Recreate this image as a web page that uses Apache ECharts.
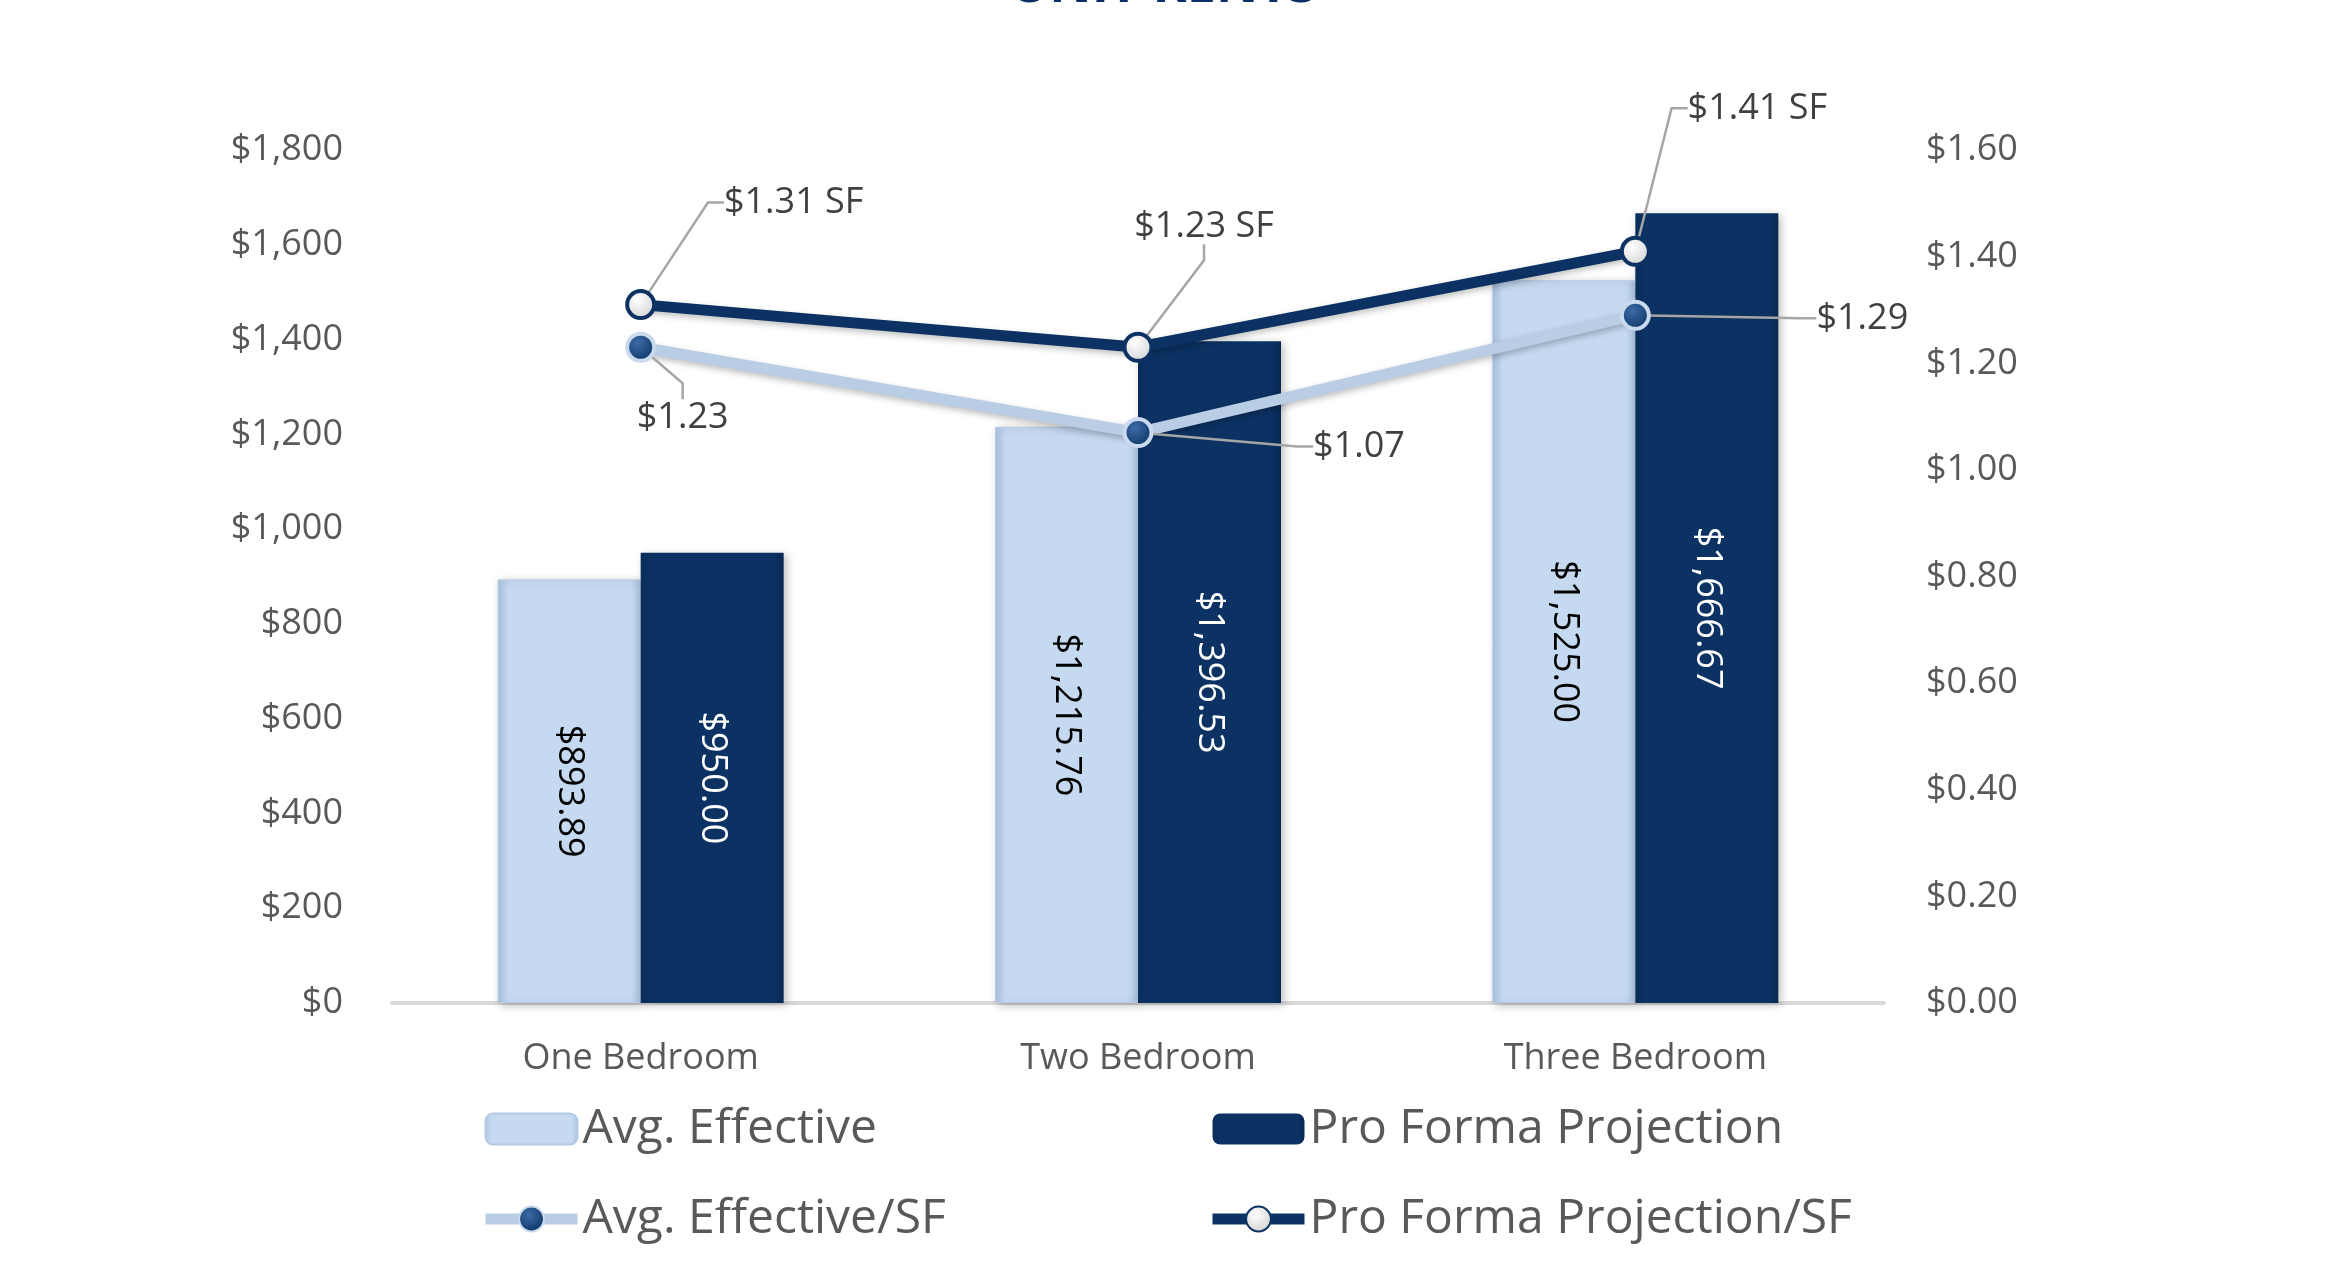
<!DOCTYPE html>
<html>
<head>
<meta charset="utf-8">
<title>Unit Rents</title>
<script src="https://cdn.jsdelivr.net/npm/echarts@6/dist/echarts.min.js"></script>
<style>
    html, body { margin: 0; padding: 0; background: #fff; }
    #chart { width: 2327px; height: 1264px; }
</style>
</head>
<body>
<div id="chart"></div>
<script>
// chart data
const categories = ['One Bedroom', 'Two Bedroom', 'Three Bedroom'];
const avgEffective = [893.89, 1215.76, 1525.00];
const proForma = [950.00, 1396.53, 1666.67];
const avgEffectiveSF = [1.23, 1.07, 1.29];
const proFormaSF = [1.31, 1.23, 1.41];
const rentTicks = [0, 1800, 200];   // min, max, step of the left axis
const sfTicks = [0, 1.6, 0.2];      // min, max, step of the right axis

const FONT = 'Open Sans';
const NAVY = '#0B3263';
const LIGHT = '#C5D9F1';
const GREY_TEXT = '#595959';

// where the callout labels sit, relative to their point
const pfOffsets = [[153, -102], [66, -121], [122, -143]];
const aeOffsets = [[42, 70], [221, 14], [227, 3]];

function money(v) {
    return '$' + v.toLocaleString('en-US', { minimumFractionDigits: 2, maximumFractionDigits: 2 });
}

const chart = echarts.init(document.getElementById('chart'));

const legendBase = {
    orient: 'vertical',
    top: 1100,
    itemGap: 42,
    itemWidth: 92,
    itemHeight: 31,
    lineStyle: { width: 11 },
    textStyle: { fontFamily: FONT, fontSize: 48, color: GREY_TEXT }
};

const option = {
    animation: false,
    backgroundColor: '#fff',
    title: {
        text: 'UNIT RENTS',
        left: 'center',
        top: -44,
        padding: [5, 5, 5, 45],
        textStyle: { fontFamily: FONT, fontSize: 52, fontWeight: 'bold', color: '#0B2E67' }
    },
    grid: { left: 392, right: 443, top: 150, bottom: 261 },
    legend: [
        Object.assign({}, legendBase, { left: 475, data: ['Avg. Effective', 'Avg. Effective/SF'] }),
        Object.assign({}, legendBase, { left: 1202, data: ['Pro Forma Projection', 'Pro Forma Projection/SF'] })
    ],
    xAxis: {
        type: 'category',
        data: categories,
        axisLine: { lineStyle: { color: '#D9D9D9', width: 4 } },
        axisTick: { show: false },
        axisLabel: { fontFamily: FONT, fontSize: 36, color: GREY_TEXT, margin: 38 }
    },
    yAxis: [
        {
            type: 'value',
            min: rentTicks[0],
            max: rentTicks[1],
            interval: rentTicks[2],
            splitLine: { show: false },
            axisLine: { show: false },
            axisTick: { show: false },
            axisLabel: {
                fontFamily: FONT, fontSize: 36, color: GREY_TEXT, margin: 49,
                formatter: v => '$' + v.toLocaleString('en-US')
            }
        },
        {
            type: 'value',
            min: sfTicks[0],
            max: sfTicks[1],
            interval: sfTicks[2],
            splitLine: { show: false },
            axisLine: { show: false },
            axisTick: { show: false },
            axisLabel: {
                fontFamily: FONT, fontSize: 36, color: GREY_TEXT, margin: 42,
                formatter: v => '$' + v.toFixed(2)
            }
        }
    ],
    series: [
        {
            name: 'Avg. Effective',
            type: 'bar',
            data: avgEffective,
            barWidth: 143,
            barGap: '0%',
            itemStyle: {
                color: new echarts.graphic.LinearGradient(0, 0, 1, 0, [
                    { offset: 0, color: '#A9C1DE' },
                    { offset: 0.07, color: LIGHT },
                    { offset: 0.93, color: LIGHT },
                    { offset: 1, color: '#A9C1DE' }
                ]),
                borderColor: '#B4C9E4',
                borderWidth: 1,
                shadowColor: 'rgba(0,0,0,0.25)',
                shadowBlur: 8,
                shadowOffsetX: 3,
                shadowOffsetY: 2
            },
            label: {
                show: true,
                position: 'inside',
                rotate: -90,
                fontFamily: FONT,
                fontSize: 36,
                color: '#000',
                formatter: p => money(p.value)
            }
        },
        {
            name: 'Pro Forma Projection',
            type: 'bar',
            data: proForma,
            barWidth: 143,
            barGap: '0%',
            itemStyle: {
                color: new echarts.graphic.LinearGradient(0, 0, 1, 0, [
                    { offset: 0, color: '#0A2D5A' },
                    { offset: 0.07, color: NAVY },
                    { offset: 0.93, color: NAVY },
                    { offset: 1, color: '#082850' }
                ]),
                shadowColor: 'rgba(0,0,0,0.25)',
                shadowBlur: 8,
                shadowOffsetX: 3,
                shadowOffsetY: 2
            },
            label: {
                show: true,
                position: 'inside',
                rotate: -90,
                fontFamily: FONT,
                fontSize: 36,
                color: '#fff',
                formatter: p => money(p.value)
            }
        },
        {
            name: 'Avg. Effective/SF',
            type: 'line',
            yAxisIndex: 1,
            data: avgEffectiveSF,
            symbol: 'circle',
            symbolSize: 27,
            lineStyle: {
                color: '#B9CDE5', width: 11,
                shadowColor: 'rgba(0,0,0,0.25)', shadowBlur: 6, shadowOffsetY: 3
            },
            itemStyle: {
                color: new echarts.graphic.RadialGradient(0.4, 0.35, 0.7, [
                    { offset: 0, color: '#3D6BA6' },
                    { offset: 1, color: NAVY }
                ]),
                borderColor: '#C9D9EE',
                borderWidth: 4
            },
            label: {
                show: true,
                position: 'inside',
                fontFamily: FONT,
                fontSize: 36,
                color: '#404040',
                formatter: p => '$' + p.value.toFixed(2)
            },
            labelLine: { show: true, length2: 16, lineStyle: { color: '#A6A6A6', width: 2.5 } },
            labelLayout: p => ({ dx: aeOffsets[p.dataIndex][0], dy: aeOffsets[p.dataIndex][1] })
        },
        {
            name: 'Pro Forma Projection/SF',
            type: 'line',
            yAxisIndex: 1,
            data: proFormaSF,
            symbol: 'circle',
            symbolSize: 27,
            lineStyle: {
                color: NAVY, width: 11,
                shadowColor: 'rgba(0,0,0,0.25)', shadowBlur: 6, shadowOffsetY: 3
            },
            itemStyle: {
                color: new echarts.graphic.RadialGradient(0.4, 0.35, 0.7, [
                    { offset: 0, color: '#FFFFFF' },
                    { offset: 1, color: '#D0D0D0' }
                ]),
                borderColor: NAVY,
                borderWidth: 4
            },
            label: {
                show: true,
                position: 'inside',
                fontFamily: FONT,
                fontSize: 36,
                color: '#404040',
                formatter: p => '$' + p.value.toFixed(2) + ' SF'
            },
            labelLine: { show: true, length2: 16, lineStyle: { color: '#A6A6A6', width: 2.5 } },
            labelLayout: p => ({ dx: pfOffsets[p.dataIndex][0], dy: pfOffsets[p.dataIndex][1] })
        }
    ]
};

chart.setOption(option);
window.addEventListener('resize', () => chart.resize());
</script>
</body>
</html>
